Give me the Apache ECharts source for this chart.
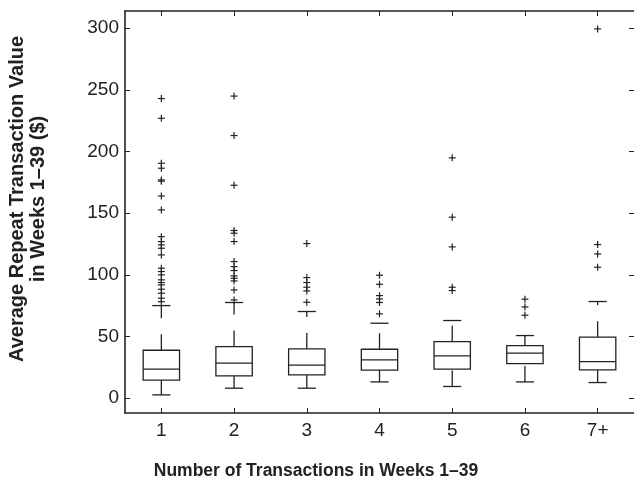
<!DOCTYPE html>
<html><head><meta charset="utf-8">
<script src="https://cdn.jsdelivr.net/npm/echarts@6/dist/echarts.min.js"></script>
<style>html,body{margin:0;padding:0;background:#fff}#c{width:634px;height:480px}</style>
</head><body><div id="c"></div>
<script>
// ---- data ----
const categories = ['1', '2', '3', '4', '5', '6', '7+'];
const lowerWhisker = [2.7, 8.1, 8.1, 13.2, 9.5, 13.2, 12.7];
const q1 = [14.6, 18.1, 18.9, 22.7, 23.5, 28.1, 23.0];
const median = [23.5, 28.4, 26.8, 31.1, 34.3, 36.5, 29.7];
const q3 = [38.9, 41.9, 40.0, 39.7, 45.9, 42.7, 49.5];
const upperWhisker = [75.1, 77.6, 70.3, 60.8, 63.0, 50.8, 78.4];
const outliers1 = [243, 227, 190.5, 186.5, 177, 176, 164, 152.7, 131, 127, 124.3, 121.6, 116.2, 105.4, 102.7, 100, 96, 93.8, 91.9, 88.4, 85.1, 81.1, 78.3];
const outliers2 = [245, 213, 172.7, 136, 133.8, 127, 110.8, 106.7, 103.5, 99.2, 97.3, 95.1, 87.8, 79.7];
const outliers3 = [125.4, 97.8, 93.8, 90, 87, 77.8];
const outliers4 = [99.7, 92.4, 83.2, 80.5, 77.6, 68.4];
const outliers5 = [194.9, 146.8, 122.7, 90, 87.3];
const outliers6 = [80.3, 74, 67.3];
const outliers7 = [299.5, 124.6, 117, 106.2];
const yTicks = [0, 50, 100, 150, 200, 250, 300];
const yMin = -12, yMax = 314;
const xTitle = 'Number of Transactions in Weeks 1\u201339';
const yTitle = 'Average Repeat Transaction Value\nin Weeks 1\u201339 ($)';

// ---- build ----
const outliers = [outliers1, outliers2, outliers3, outliers4, outliers5, outliers6, outliers7];
const boxData = categories.map((c, i) => [i, lowerWhisker[i], q1[i], median[i], q3[i], upperWhisker[i]]);
const outlierData = [];
outliers.forEach((arr, i) => arr.forEach(v => outlierData.push([i, v])));

const FONT = '"Liberation Sans", Arial, Helvetica, sans-serif';
const INK = '#222';
const LW = 1.3;

function renderBox(params, api) {
  const x = api.value(0);
  const band = api.size([1, 0])[0];
  const bw = band * 0.5, cw = band * 0.25;
  const pLow = api.coord([x, api.value(1)]);
  const pQ1 = api.coord([x, api.value(2)]);
  const pMed = api.coord([x, api.value(3)]);
  const pQ3 = api.coord([x, api.value(4)]);
  const pHigh = api.coord([x, api.value(5)]);
  const cx = pLow[0];
  const st = { stroke: INK, lineWidth: LW, fill: null };
  const dash = { stroke: INK, lineWidth: LW, fill: null, lineDash: [16, 16] };
  return {
    type: 'group',
    children: [
      { type: 'line', shape: { x1: cx, y1: pQ3[1], x2: cx, y2: pHigh[1] }, style: dash },
      { type: 'line', shape: { x1: cx, y1: pLow[1], x2: cx, y2: pQ1[1] }, style: dash },
      { type: 'line', shape: { x1: cx - cw / 2, y1: pHigh[1], x2: cx + cw / 2, y2: pHigh[1] }, style: st },
      { type: 'line', shape: { x1: cx - cw / 2, y1: pLow[1], x2: cx + cw / 2, y2: pLow[1] }, style: st },
      { type: 'rect', shape: { x: cx - bw / 2, y: pQ3[1], width: bw, height: pQ1[1] - pQ3[1] }, style: { stroke: INK, lineWidth: LW, fill: '#fff' } },
      { type: 'line', shape: { x1: cx - bw / 2, y1: pMed[1], x2: cx + bw / 2, y2: pMed[1] }, style: st }
    ]
  };
}

function renderPlus(params, api) {
  const p = api.coord([api.value(0), api.value(1)]);
  const h = 3.5;
  const st = { stroke: INK, lineWidth: 1.2, fill: null };
  return {
    type: 'group',
    children: [
      { type: 'line', shape: { x1: p[0] - h, y1: p[1], x2: p[0] + h, y2: p[1] }, style: st },
      { type: 'line', shape: { x1: p[0], y1: p[1] - h, x2: p[0], y2: p[1] + h }, style: st }
    ]
  };
}

const chart = echarts.init(document.getElementById('c'), null, { renderer: 'canvas' });
const axisLine = { show: true, onZero: false, lineStyle: { color: INK, width: 1.6 } };
const tick = { show: true, inside: true, length: 5, lineStyle: { color: INK, width: 1 } };
chart.setOption({
  animation: false,
  backgroundColor: '#fff',
  grid: { left: 125, top: 11, width: 510, height: 402 },
  xAxis: [
    {
      type: 'category', data: categories, position: 'bottom',
      axisLine: axisLine,
      axisTick: Object.assign({ alignWithLabel: true }, tick),
      axisLabel: { fontSize: 19, color: INK, fontFamily: FONT, margin: 8 },
      splitLine: { show: false }
    },
    {
      type: 'category', data: categories, position: 'top',
      axisLine: axisLine,
      axisTick: Object.assign({ alignWithLabel: true }, tick),
      axisLabel: { show: false },
      splitLine: { show: false }
    }
  ],
  yAxis: [
    {
      type: 'value', min: yMin, max: yMax, position: 'left',
      axisLine: axisLine,
      axisTick: Object.assign({ customValues: yTicks }, tick),
      axisLabel: { fontSize: 19, color: INK, fontFamily: FONT, margin: 6, customValues: yTicks },
      splitLine: { show: false }
    },
    {
      type: 'value', min: yMin, max: yMax, position: 'right',
      axisLine: { show: false, onZero: false },
      axisTick: Object.assign({ customValues: yTicks }, tick),
      axisLabel: { show: false },
      splitLine: { show: false }
    }
  ],
  series: [
    { type: 'custom', xAxisIndex: 0, yAxisIndex: 0, renderItem: renderBox, data: boxData, encode: { x: 0, y: [1, 2, 3, 4, 5] } },
    { type: 'custom', xAxisIndex: 0, yAxisIndex: 0, renderItem: renderPlus, data: outlierData, encode: { x: 0, y: 1 } }
  ],
  graphic: [
    {
      type: 'text', x: 28, y: 199, rotation: Math.PI / 2,
      style: { text: yTitle, fill: INK, fontSize: 20, fontWeight: 'bold', fontFamily: FONT, align: 'center', verticalAlign: 'middle', lineHeight: 21 }
    },
    {
      type: 'text', x: 316, y: 471,
      style: { text: xTitle, fill: INK, fontSize: 17.5, fontWeight: 'bold', fontFamily: FONT, align: 'center', verticalAlign: 'middle' }
    }
  ]
});
</script>
</body></html>
